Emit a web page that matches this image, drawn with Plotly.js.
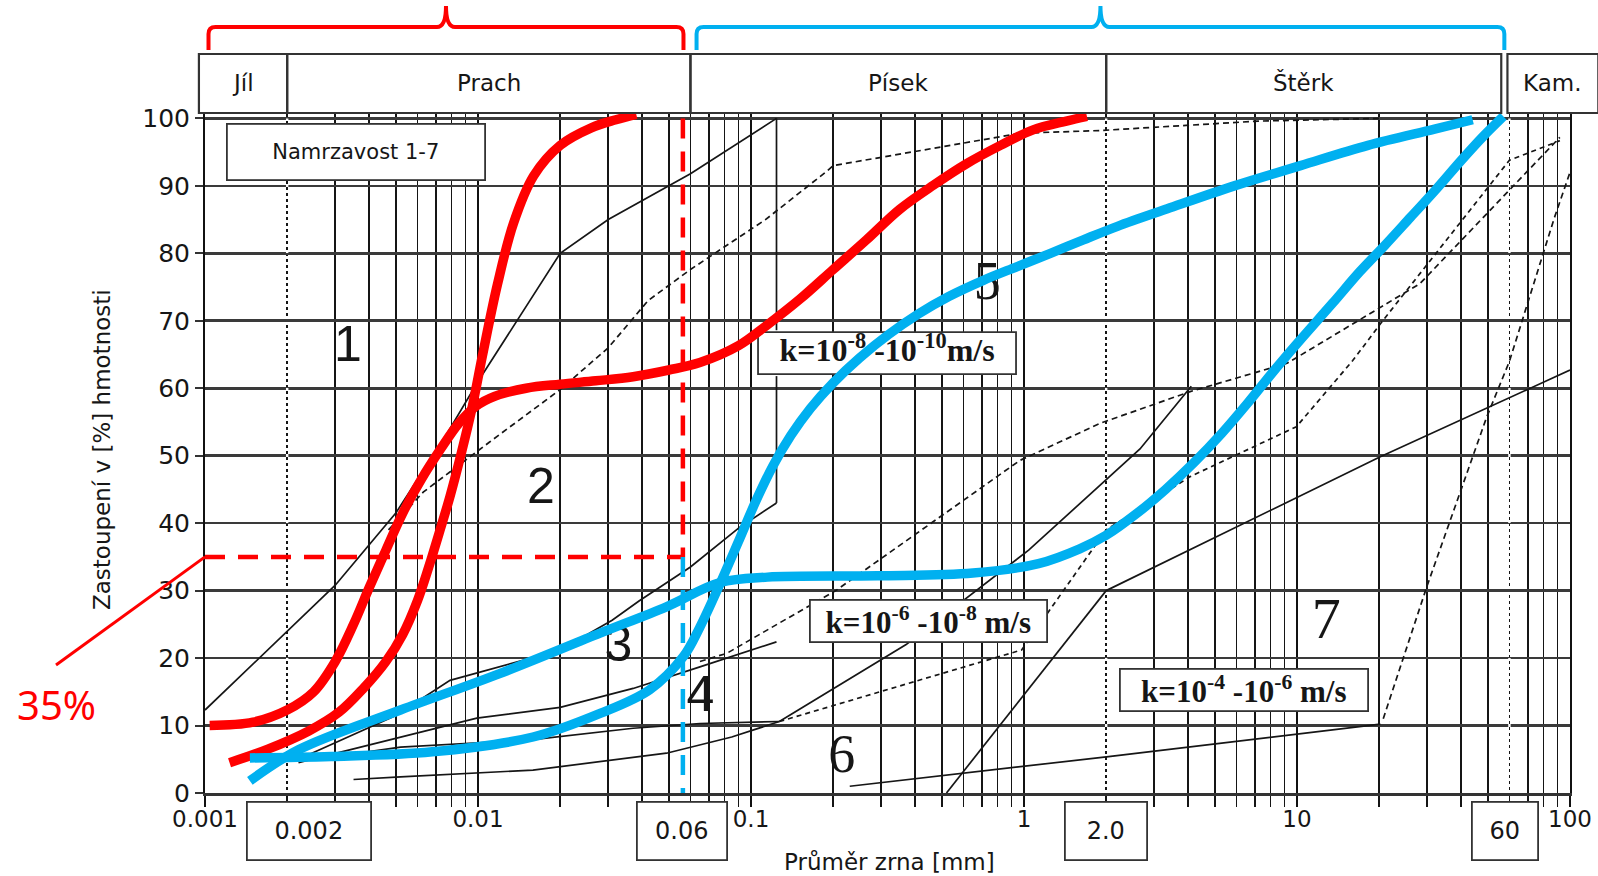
<!DOCTYPE html>
<html>
<head>
<meta charset="utf-8">
<script src="https://cdn.plot.ly/plotly-3.0.1.min.js"></script>
<style>
html,body{margin:0;padding:0;background:#ffffff;}
#chart{width:1598px;height:876px;}
</style>
</head>
<body>
<div id="chart"></div>
<script>
// ---------------- axis ticks ----------------
const xDecades = [0.001, 0.01, 0.1, 1, 10, 100];
const xDecadeText = ['0.001', '0.01', '0.1', '1', '10', '100'];
const yTickVals = [0, 10, 20, 30, 40, 50, 60, 70, 80, 90, 100];

// ---------------- soil class header ----------------
const headerLabels = ['Jíl', 'Prach', 'Písek', 'Štěrk', 'Kam.'];
const headerFrom = [0.00095, 0.002, 0.06, 2, 59];
const headerTo = [0.002, 0.06, 2, 56, 127];

// fraction boundaries (boxed labels below axis)
const boundaryValues = [0.002, 0.06, 2, 60];
const boundaryText = ['0.002', '0.06', '2.0', '60'];

// zone numbers (Namrzavost 1-7)
const zoneText = ['1', '2', '3', '4', '5', '6', '7'];
const zoneX = [0.00334, 0.0170, 0.0327, 0.0653, 0.733, 0.215, 12.8];
const zoneY = [65.9, 44.9, 21.4, 14.0, 75.2, 5.1, 25.1];

// permeability labels
const kText = ['k=10<sup>-8</sup> -10<sup>-10</sup>m/s', 'k=10<sup>-6</sup> -10<sup>-8</sup> m/s', 'k=10<sup>-4</sup> -10<sup>-6</sup> m/s'];
const kX = [0.315, 0.445, 6.4];
const kY = [65.2, 25.5, 15.3];

// ---------------- thin boundary lines of the original chart ----------------
const l1X = [0.001, 0.002, 0.003, 0.005, 0.0075, 0.01, 0.02, 0.03, 0.06, 0.124];
const l1Y = [12.3, 24, 30.8, 41.5, 52.5, 61, 80, 85, 91.8, 100];
const v1X = [0.124, 0.124, null, 0.124, 0.124];
const v1Y = [43, 61.8, null, 68.6, 100];
const saX = [0.0022, 0.005, 0.0079, 0.02, 0.031, 0.039, 0.06, 0.091, 0.124];
const saY = [5, 11.5, 16.7, 21.2, 25.6, 28.5, 33.5, 39.4, 43];
const sbX = [0.0022, 0.0099, 0.02, 0.037, 0.065, 0.124];
const sbY = [4.5, 11.1, 12.7, 15.5, 18.7, 22.4];
const scX = [0.0035, 0.0052, 0.0159, 0.037, 0.065, 0.127];
const scY = [5.8, 6.8, 7.9, 9.6, 10.3, 10.6];
const sdX = [0.0035, 0.0052, 0.0159, 0.049, 0.085, 0.127];
const sdY = [2.0, 2.4, 3.4, 5.9, 8.3, 10.6];
const s3X = [0.127, 0.37, 1.04, 2.66, 4.1];
const s3Y = [10.6, 22, 36, 51, 60.3];
const s5X = [0.52, 2.0];
const s5Y = [0, 30];
const s4X = [2.0, 20.1, 100];
const s4Y = [30, 49.8, 62.7];
const s6X = [0.23, 2.04, 20.2];
const s6Y = [1, 5.4, 10.2];
// dashed
const l2X = [0.0047, 0.0063, 0.011, 0.02, 0.03, 0.042, 0.06, 0.113, 0.19, 0.2, 0.97, 1.9, 7.2, 20];
const l2Y = [39, 44.6, 52, 59.8, 66, 73, 77.6, 85, 92.2, 93, 97.8, 98.2, 99.6, 100];
const d3X = [0.065, 0.0815, 0.206, 0.966, 1.9, 4.06, 9.2, 28.2, 91.8];
const d3Y = [19.5, 20.7, 30.1, 49.3, 54.8, 59.5, 63.7, 75.5, 97.2];
const d4X = [0.127, 0.98, 2.0, 4.06, 9.95, 16, 20.7, 60, 91.8];
const d4Y = [10.6, 21.2, 39, 46.9, 54.3, 64.1, 70.1, 93.8, 96.7];
const d6X = [20.7, 29.9, 49.5, 60, 87.7, 100];
const d6Y = [11, 30.6, 55.7, 64, 85.3, 92];

// ---------------- highlighted grading curves ----------------
const red1X = [0.00104, 0.0015, 0.002, 0.0025, 0.003, 0.0035, 0.004, 0.0046, 0.0053, 0.0062, 0.0073, 0.0085, 0.0098, 0.0115, 0.015, 0.02, 0.027, 0.037, 0.05, 0.065, 0.09, 0.114, 0.151, 0.2, 0.265, 0.35, 0.466, 0.617, 0.82, 1.08, 1.43, 1.7];
const red1Y = [10, 10.5, 12.3, 15, 19.5, 25, 30.5, 36, 41.5, 46.5, 51, 54.8, 57.3, 58.8, 60, 60.6, 61.1, 61.7, 62.7, 63.8, 66.3, 69.3, 73.2, 77.6, 82, 86.5, 90.1, 93.3, 96, 98.3, 99.6, 100.3];
const red2X = [0.00123, 0.0017, 0.0024, 0.0031, 0.0038, 0.0046, 0.0053, 0.006, 0.0066, 0.0072, 0.0079, 0.0087, 0.0095, 0.0104, 0.0118, 0.0135, 0.016, 0.02, 0.026, 0.032, 0.038];
const red2Y = [4.5, 6.5, 9.2, 12, 15.5, 19.5, 23.5, 28.5, 33.5, 38.5, 44, 50.5, 57, 65, 75.5, 84.5, 91.5, 96, 98.6, 99.8, 100.6];
const blue1X = [0.00146, 0.0022, 0.0052, 0.012, 0.028, 0.049, 0.077, 0.115, 0.29, 0.65, 1.13, 1.6, 2.0, 2.6, 3.3, 4.2, 5.3, 6.6, 8.2, 10.3, 13.5, 17, 21, 26, 32, 40, 48, 57];
const blue1Y = [1.8, 6.4, 12.3, 17.7, 23.7, 27.6, 31.2, 32, 32.2, 32.6, 34, 36.2, 38.2, 41.5, 45, 49, 53.3, 57.8, 62.5, 67.2, 72.6, 77.3, 81.2, 85.3, 89.3, 93.8, 97.3, 100.3];
const blue2X = [0.00146, 0.0029, 0.0068, 0.0159, 0.028, 0.0425, 0.0565, 0.065, 0.077, 0.09, 0.104, 0.12, 0.14, 0.165, 0.2, 0.25, 0.32, 0.41, 0.53, 0.71, 0.94, 1.25, 1.65, 2.2, 3.35, 5.89, 10.3, 18.2, 31.9, 44];
const blue2Y = [5.2, 5.4, 6.1, 8.3, 11.8, 15.3, 20.2, 24.6, 31, 37.3, 43.2, 48.4, 53, 57, 60.8, 64.5, 68, 71, 73.6, 76, 78, 80, 82, 84, 86.6, 90, 93, 96, 98.4, 99.8];

// 35 % reading (dashed guide)
const guideValue = 35;
const guideSize = 0.0563;
const guideHX = [0.001, guideSize];
const guideHY = [guideValue, guideValue];
const guideRedVX = [guideSize, guideSize];
const guideRedVY = [100, guideValue];
const guideBlueVX = [guideSize, guideSize];
const guideBlueVY = [guideValue, 0];

// ---------------- styling / geometry helpers ----------------
const RED = '#FF0000';
const BLUE = '#00B0F0';
const INK = '#161616';
const SANS = 'Liberation Sans, Arial, sans-serif';
const WIDE = 'DejaVu Sans, Verdana, sans-serif';
const SERIF = 'Liberation Serif, Times New Roman, serif';
const LOG_MIN = -3, LOG_MAX = 2, Y_MAX = 100.8;
const PL = 205, PR = 1570, PT = 113, PB = 793;
const PX_PER_DECADE = (PR - PL) / (LOG_MAX - LOG_MIN);
const PX_PER_UNIT = (PB - PT) / Y_MAX;
function xp(v) { return (Math.log10(v) - LOG_MIN) / (LOG_MAX - LOG_MIN); }
function yp(py) { return (PB - py) / (PB - PT); }
function pw(px) { return px / (PR - PL); }

// minor grid: 2..9 multiples inside each decade
const minorVals = [];
for (let d = 0; d < xDecades.length - 1; d++) {
  for (let m = 2; m <= 9; m++) minorVals.push(xDecades[d] * m);
}

function thin(x, y, dash) {
  return {x: x, y: y, type: 'scatter', mode: 'lines', hoverinfo: 'skip',
    line: {color: INK, width: 1.7, dash: dash || 'solid'}, connectgaps: false};
}
function thick(x, y, color) {
  return {x: x, y: y, type: 'scatter', mode: 'lines', hoverinfo: 'skip',
    line: {color: color, width: 9.5, shape: 'spline', smoothing: 1}};
}

const traces = [
  thin(l1X, l1Y), thin(v1X, v1Y), thin(saX, saY), thin(sbX, sbY), thin(scX, scY),
  thin(sdX, sdY), thin(s3X, s3Y), thin(s5X, s5Y), thin(s4X, s4Y), thin(s6X, s6Y),
  thin(l2X, l2Y, '6px,4px'), thin(d3X, d3Y, '6px,4px'), thin(d4X, d4Y, '5px,4px'), thin(d6X, d6Y, '6px,4px'),
  {x: zoneX, y: zoneY, text: zoneText, type: 'scatter', mode: 'text', hoverinfo: 'skip',
   textposition: 'middle center',
   textfont: {size: [50, 50, 50, 50, 54, 54, 58], color: INK,
              family: [SANS, SANS, SANS, SANS, SERIF, SERIF, SERIF]}},
  {x: [kX[0]], y: [kY[0]], text: ['<b>' + kText[0] + '</b>'], type: 'scatter', mode: 'text',
   hoverinfo: 'skip', textposition: 'middle center',
   textfont: {size: 32, color: INK, family: SERIF}},
  thick(red1X, red1Y, RED), thick(red2X, red2Y, RED),
  thick(blue1X, blue1Y, BLUE), thick(blue2X, blue2Y, BLUE),
  {x: guideHX, y: guideHY, type: 'scatter', mode: 'lines', hoverinfo: 'skip', line: {color: RED, width: 4.5, dash: '20px,13px'}},
  {x: guideRedVX, y: guideRedVY, type: 'scatter', mode: 'lines', hoverinfo: 'skip', line: {color: RED, width: 4.5, dash: '20px,13px'}},
  {x: guideBlueVX, y: guideBlueVY, type: 'scatter', mode: 'lines', hoverinfo: 'skip', line: {color: BLUE, width: 4.5, dash: '20px,13px'}}
];

// ---------------- shapes ----------------
const shapes = [];
for (let i = 0; i < headerLabels.length; i++) {
  shapes.push({type: 'rect', xref: 'paper', yref: 'paper',
    x0: xp(headerFrom[i]), x1: xp(headerTo[i]), y0: yp(113), y1: yp(54),
    line: {color: '#333', width: 2.2}, fillcolor: 'rgba(255,255,255,0)'});
}
function bracket(xa, xb, color) {
  const xl = xp(xa), xr = xp(xb), xc = (xl + xr) / 2;
  const d = pw(7), e = pw(9);
  const yb = yp(50), yh = yp(27), yk = yp(6);
  const yc = yp(34);
  const p = 'M' + xl + ',' + yb + ' L' + xl + ',' + yc +
    ' Q' + xl + ',' + yh + ' ' + (xl + d) + ',' + yh +
    ' L' + (xc - e) + ',' + yh + ' Q' + xc + ',' + yh + ' ' + xc + ',' + yk +
    ' Q' + xc + ',' + yh + ' ' + (xc + e) + ',' + yh +
    ' L' + (xr - d) + ',' + yh + ' Q' + xr + ',' + yh + ' ' + xr + ',' + yc +
    ' L' + xr + ',' + yb;
  return {type: 'path', xref: 'paper', yref: 'paper', path: p, line: {color: color, width: 4}};
}
shapes.push(bracket(xDecades[0] * 1.03, boundaryValues[1] * 0.943, RED));
shapes.push(bracket(boundaryValues[1] * 1.053, boundaryValues[3] * 0.958, BLUE));
// dotted look of the fraction-boundary gridlines (0.002, 2.0, 60)
[0, 2, 3].forEach(function (i) {
  shapes.push({type: 'line', xref: 'x', yref: 'y', layer: 'between',
    x0: boundaryValues[i], x1: boundaryValues[i], y0: 0, y1: 100,
    line: {color: '#ffffff', width: 2.4, dash: '3px,3px'}});
});
// box behind k1 label (under the curves)
const k1HalfW = 129, k1HalfH = 21;
shapes.push({type: 'rect', xref: 'x', yref: 'y', layer: 'between',
  x0: kX[0] * Math.pow(10, -k1HalfW / PX_PER_DECADE), x1: kX[0] * Math.pow(10, k1HalfW / PX_PER_DECADE),
  y0: kY[0] - k1HalfH / PX_PER_UNIT, y1: kY[0] + k1HalfH / PX_PER_UNIT,
  fillcolor: '#ffffff', line: {color: '#333', width: 1.8}});
// 35 % pointer line
shapes.push({type: 'line', xref: 'paper', yref: 'paper',
  x0: pw(56 - PL), y0: yp(665), x1: xp(guideHX[0]), y1: guideValue / Y_MAX,
  line: {color: RED, width: 3}});

// ---------------- annotations ----------------
const annotations = [];
const headerFont = {family: WIDE, size: 23, color: INK};
for (let i = 0; i < headerLabels.length; i++) {
  annotations.push({xref: 'paper', yref: 'paper', showarrow: false, xanchor: 'center', yanchor: 'middle',
    x: (xp(headerFrom[i]) + xp(headerTo[i])) / 2, y: yp(83),
    text: headerLabels[i], font: headerFont});
}
const boxShift = [22, -8, 0, -4];
const boxW = [120, 86, 78, 62];
for (let i = 0; i < boundaryValues.length; i++) {
  annotations.push({xref: 'x', yref: 'paper', showarrow: false, xanchor: 'center', yanchor: 'middle',
    x: Math.log10(boundaryValues[i]), xshift: boxShift[i], y: yp(831),
    text: boundaryText[i], font: {family: WIDE, size: 24, color: INK},
    width: boxW[i], height: 54, borderpad: 1, bordercolor: '#333', borderwidth: 1.8, bgcolor: '#ffffff'});
}
annotations.push({xref: 'paper', yref: 'paper', showarrow: false, xanchor: 'center', yanchor: 'middle',
  x: pw(356 - PL), y: yp(152), text: 'Namrzavost 1-7',
  font: {family: WIDE, size: 21, color: INK},
  width: 254, height: 52, borderpad: 1, bordercolor: '#333', borderwidth: 1.8, bgcolor: '#ffffff'});
for (let i = 1; i < kText.length; i++) {
  annotations.push({xref: 'x', yref: 'y', showarrow: false, xanchor: 'center', yanchor: 'middle',
    x: Math.log10(kX[i]), y: kY[i], text: '<b>' + kText[i] + '</b>',
    font: {family: SERIF, size: 31, color: INK},
    width: i === 1 ? 233 : 244, height: 38, borderpad: 1, bordercolor: '#333', borderwidth: 1.8, bgcolor: '#ffffff'});
}
annotations.push({xref: 'paper', yref: 'paper', showarrow: false, xanchor: 'center', yanchor: 'middle',
  x: pw(102 - PL), y: yp(450), textangle: -90, text: 'Zastoupení v [%] hmotnosti',
  font: {family: WIDE, size: 23, color: INK}});
annotations.push({xref: 'paper', yref: 'paper', showarrow: false, xanchor: 'center', yanchor: 'middle',
  x: pw(889 - PL), y: yp(862), text: 'Průměr zrna [mm]',
  font: {family: WIDE, size: 23, color: INK}});
annotations.push({xref: 'paper', yref: 'paper', showarrow: false, xanchor: 'center', yanchor: 'middle',
  x: pw(56 - PL), y: yp(704), text: guideValue + '%',
  font: {family: 'Noto Sans, Open Sans, sans-serif', size: 40, color: RED}});

const layout = {
  width: 1598, height: 876,
  margin: {l: PL, r: 1598 - PR, t: PT, b: 876 - PB, pad: 0},
  paper_bgcolor: '#ffffff', plot_bgcolor: '#ffffff',
  showlegend: false, hovermode: false,
  xaxis: {type: 'log', range: [LOG_MIN, LOG_MAX], tickmode: 'array', tickvals: xDecades, ticktext: xDecadeText,
    showgrid: true, gridcolor: '#111111', gridwidth: 2,
    ticks: 'outside', ticklen: 11, tickwidth: 2, tickcolor: '#111111',
    minor: {tickmode: 'array', tickvals: minorVals, showgrid: true, gridcolor: '#151515', gridwidth: 1.8,
            ticks: 'outside', ticklen: 11, tickwidth: 1.8, tickcolor: '#151515'},
    tickfont: {family: WIDE, size: 23, color: INK}, ticklabelstandoff: -7,
    showline: true, linecolor: '#333', linewidth: 2.6, zeroline: false, fixedrange: true},
  yaxis: {range: [0, Y_MAX], tickmode: 'array', tickvals: yTickVals,
    showgrid: true, gridcolor: '#3a3a3a', gridwidth: 2.6,
    ticks: 'outside', ticklen: 8, tickwidth: 2, tickcolor: '#333',
    tickfont: {family: WIDE, size: 25, color: INK},
    showline: true, mirror: true, linecolor: '#111111', linewidth: 2,
    zeroline: false, fixedrange: true},
  shapes: shapes,
  annotations: annotations
};

Plotly.newPlot('chart', traces, layout, {staticPlot: true, displayModeBar: false});
</script>
</body>
</html>
